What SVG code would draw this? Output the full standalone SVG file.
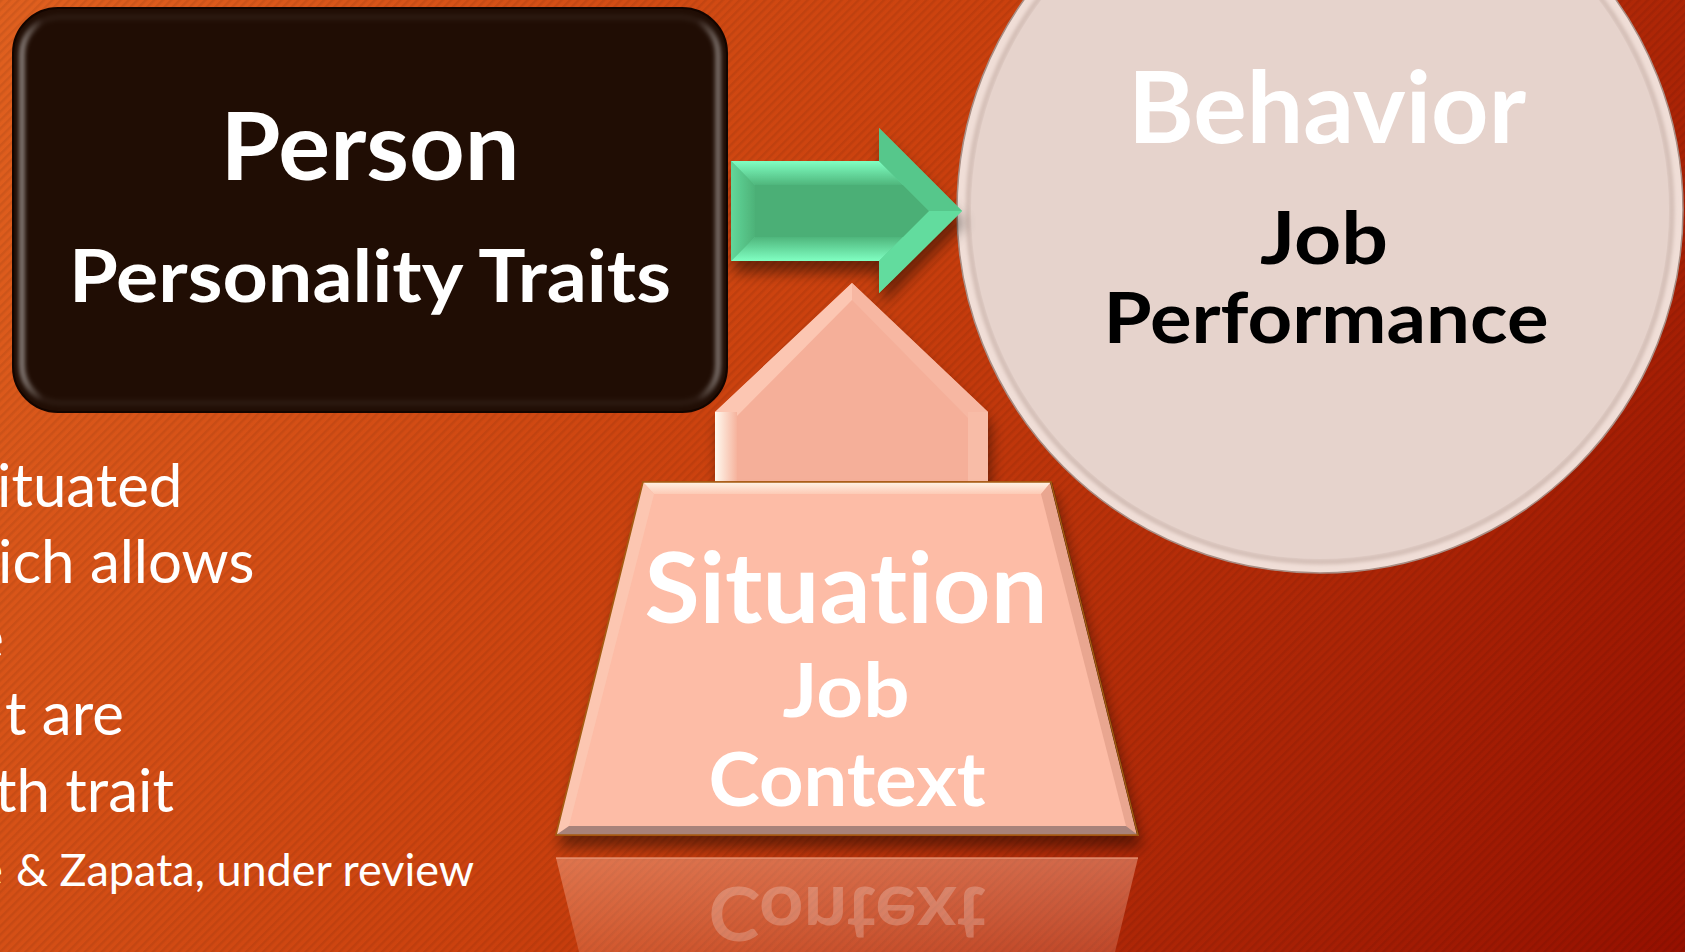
<svg xmlns="http://www.w3.org/2000/svg" width="1685" height="952" viewBox="0 0 1685 952">
<defs>
  <linearGradient id="bg" gradientUnits="userSpaceOnUse" x1="0" y1="0" x2="1685" y2="952">
    <stop offset="0" stop-color="#e0601f"/>
    <stop offset="0.45" stop-color="#cb410e"/>
    <stop offset="1" stop-color="#961000"/>
  </linearGradient>
  <pattern id="stripes" width="6" height="6" patternUnits="userSpaceOnUse" patternTransform="rotate(45)">
    <rect width="2.5" height="6" fill="#000" opacity="0.07"/>
  </pattern>
  <filter id="shadow" x="-20%" y="-20%" width="150%" height="160%">
    <feGaussianBlur in="SourceAlpha" stdDeviation="7"/>
    <feOffset dx="3" dy="12"/>
    <feComponentTransfer><feFuncA type="linear" slope="0.45"/></feComponentTransfer>
    <feMerge><feMergeNode/><feMergeNode in="SourceGraphic"/></feMerge>
  </filter>
  <filter id="soft" x="-5%" y="-5%" width="110%" height="110%">
    <feGaussianBlur stdDeviation="2"/>
  </filter>
  <linearGradient id="boxRim" x1="0" y1="0" x2="1" y2="0">
    <stop offset="0" stop-color="#fff" stop-opacity="0.45"/>
    <stop offset="0.03" stop-color="#fff" stop-opacity="0.05"/>
    <stop offset="0.97" stop-color="#fff" stop-opacity="0.05"/>
    <stop offset="1" stop-color="#fff" stop-opacity="0.4"/>
  </linearGradient>
  <linearGradient id="upLeft" x1="0" y1="0" x2="1" y2="0">
    <stop offset="0" stop-color="#fffaf0"/>
    <stop offset="1" stop-color="#f6b39d"/>
  </linearGradient>
  <linearGradient id="reflect" x1="0" y1="0" x2="0" y2="1">
    <stop offset="0" stop-color="#ffbfa6" stop-opacity="0.42"/>
    <stop offset="1" stop-color="#ffbfa6" stop-opacity="0.22"/>
  </linearGradient>
  <linearGradient id="trapTop" x1="0" y1="0" x2="0" y2="1">
    <stop offset="0" stop-color="#fff3e6"/>
    <stop offset="1" stop-color="#fdcab5"/>
  </linearGradient>
  <linearGradient id="gTop" gradientUnits="userSpaceOnUse" x1="0" y1="161" x2="0" y2="185">
    <stop offset="0" stop-color="#80ffc2"/>
    <stop offset="1" stop-color="#4fb67c"/>
  </linearGradient>
  <linearGradient id="gBot" gradientUnits="userSpaceOnUse" x1="0" y1="237" x2="0" y2="261">
    <stop offset="0" stop-color="#4fb67c"/>
    <stop offset="1" stop-color="#80ffc2"/>
  </linearGradient>
  <linearGradient id="gLeft" gradientUnits="userSpaceOnUse" x1="731" y1="0" x2="755" y2="0">
    <stop offset="0" stop-color="#62d79a"/>
    <stop offset="1" stop-color="#4db278"/>
  </linearGradient>
  <style>
    .lbl { font-family: Lato, "Open Sans", "Liberation Sans", sans-serif; font-weight: bold; text-anchor: middle; font-variant-ligatures: none; }
    .body { font-family: Lato, "Open Sans", "Liberation Sans", sans-serif; fill: #ffffff; font-size: 60px; font-variant-ligatures: none; }
    .white { fill: #ffffff; }
    .black { fill: #000000; }
  </style>
</defs>

<g id="background">
  <rect x="0" y="0" width="1685" height="952" fill="url(#bg)"/>
  <rect x="0" y="0" width="1685" height="952" fill="url(#stripes)"/>
</g>

<g id="body-text">
  <text class="body" x="-3" y="507">ituated</text>
  <text class="body" x="-2" y="583">ich allows</text>
  <text class="body" x="4" y="659" text-anchor="end">e</text>
  <text class="body" x="5" y="735">t are</text>
  <text class="body" x="-5" y="812">th trait</text>
  <text class="body" y="886" style="font-size:45px"><tspan x="-21">e</tspan><tspan x="16">&amp; Zapata, under review</tspan></text>
</g>

<g id="node-behavior">
  <circle cx="1320" cy="210" r="363" fill="#f0ded7" stroke="#a88e85" stroke-width="1.5"/>
  <circle cx="1320" cy="210" r="352" fill="#e6d3cc" stroke="#c2aaa1" stroke-width="3" filter="url(#soft)"/>
  <circle cx="1320" cy="210" r="349" fill="#e6d3cc"/>
  <text class="lbl white" x="1327" y="143" font-size="99" textLength="398" lengthAdjust="spacingAndGlyphs">Behavior</text>
  <text class="lbl black" x="1324" y="264" font-size="73" textLength="128" lengthAdjust="spacingAndGlyphs">Job</text>
  <text class="lbl black" x="1326" y="343" font-size="70" textLength="445" lengthAdjust="spacingAndGlyphs">Performance</text>
</g>

<g id="node-person">
  <rect x="13" y="8" width="714" height="404" rx="45" fill="#200d04" stroke="#120500" stroke-width="2"/>
  <rect x="22" y="17" width="696" height="386" rx="38" fill="none" stroke="url(#boxRim)" stroke-width="6" filter="url(#soft)"/>
  <text class="lbl white" x="370" y="180" font-size="94" textLength="299" lengthAdjust="spacingAndGlyphs">Person</text>
  <text class="lbl white" x="370" y="302" font-size="73" textLength="602" lengthAdjust="spacingAndGlyphs">Personality Traits</text>
</g>

<g id="connectors">
  <g id="arrow-person-behavior" filter="url(#shadow)">
    <polygon points="731,161 879,161 879,128 962,211 879,293 879,261 731,261" fill="#5cd095"/>
    <polygon points="731,161 879,161 903,185 755,185" fill="url(#gTop)"/>
    <polygon points="731,261 879,261 903,237 755,237" fill="url(#gBot)"/>
    <polygon points="731,161 755,185 755,237 731,261" fill="url(#gLeft)"/>
    <polygon points="879,128 962,211 929,211 903,185 879,161" fill="#56c78b"/>
    <polygon points="879,293 962,211 929,211 903,237 879,261" fill="#62dc9e"/>
    <polygon points="755,185 903,185 929,211 903,237 755,237" fill="#4caf76"/>
  </g>
  <g id="arrow-situation-up" filter="url(#shadow)">
    <polygon points="715,484 715,412 852,283 988,412 988,484" fill="#f5af99"/>
    <polygon points="715,412 852,283 852,300 735,418" fill="#fcc6b2"/>
    <rect x="715" y="412" width="22" height="72" fill="url(#upLeft)"/>
    <polygon points="968,418 852,300 852,283 988,412" fill="#f7b7a2"/>
    <rect x="968" y="412" width="20" height="72" fill="#f8bca7"/>
  </g>
</g>

<g id="node-situation">
  <polygon points="556,858 1138,858 1115,952 579,952" fill="url(#reflect)"/>
  <line x1="556" y1="858" x2="1138" y2="858" stroke="#f2a080" stroke-width="2" opacity="0.6"/>
  <text class="lbl white" x="847" y="806" font-size="74" textLength="277" lengthAdjust="spacingAndGlyphs" transform="matrix(1 0 0 -1 0 1693)" opacity="0.22">Context</text>
  <g filter="url(#shadow)">
    <polygon points="643,482 1051,482 1138,835 556,835" fill="#fdbca6" stroke="#a65a12" stroke-width="1.5"/>
  </g>
  <polygon points="643,482 1051,482 1041,494 654,494" fill="url(#trapTop)"/>
  <polygon points="643,482 654,494 569,826 556,835" fill="#fcc6b1"/>
  <polygon points="1051,482 1138,835 1126,826 1041,494" fill="#e9a690"/>
  <polygon points="556,835 1138,835 1126,826 569,826" fill="#a8827a"/>
  <line x1="1051" y1="482" x2="1138" y2="835" stroke="#3a1a00" stroke-width="2"/>
  <polygon points="643,482 1051,482 1138,835 556,835" fill="none" stroke="#a65a12" stroke-width="1.5"/>
  <text class="lbl white" x="846" y="623" font-size="97" textLength="403" lengthAdjust="spacingAndGlyphs">Situation</text>
  <text class="lbl white" x="846" y="717" font-size="75" textLength="127" lengthAdjust="spacingAndGlyphs">Job</text>
  <text class="lbl white" x="847" y="806" font-size="74" textLength="277" lengthAdjust="spacingAndGlyphs">Context</text>
</g>
</svg>
